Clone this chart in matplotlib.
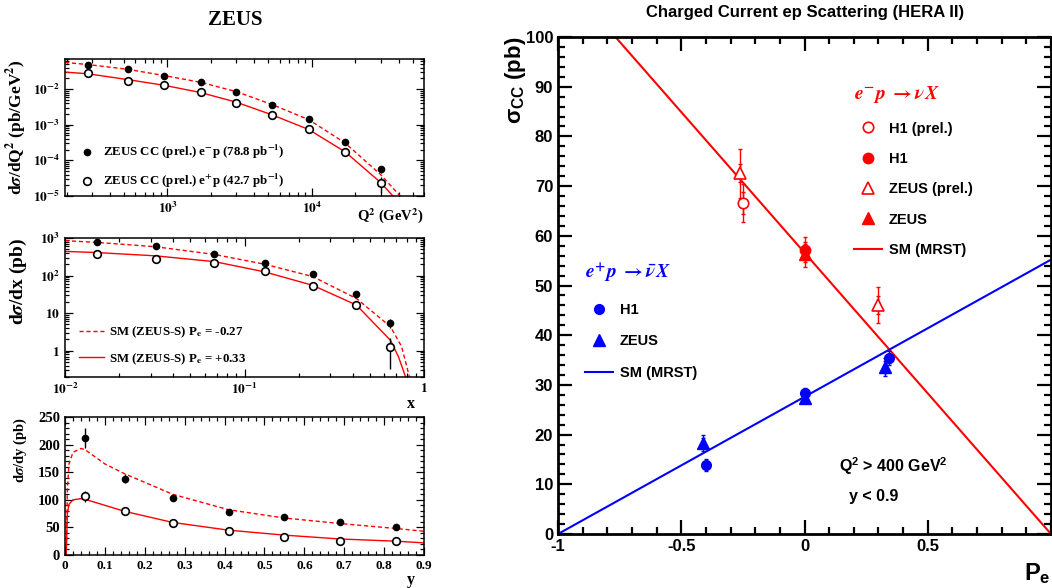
import numpy as np
import matplotlib
matplotlib.use('Agg')
import matplotlib.pyplot as plt
from matplotlib.ticker import FuncFormatter, MultipleLocator, LogLocator, NullFormatter

plt.rcParams['font.family'] = ['Liberation Serif', 'DejaVu Serif']
plt.rcParams['font.weight'] = 'bold'
plt.rcParams['axes.labelweight'] = 'bold'
plt.rcParams['mathtext.fontset'] = 'stix'
# sans bold math for the right-hand plot (used via math_fontfamily='custom')
for k in ['rm', 'it', 'bf', 'sf']:
    plt.rcParams['mathtext.' + k] = 'Liberation Sans:bold'

# ---- ZEUS dsigma/dQ2 ----
q2 = [280, 530, 950, 1700, 3000, 5300, 9500, 17000, 30000]
dq2_em = [0.048, 0.0365, 0.0237, 0.0154, 0.0082, 0.00355, 0.00147, 3.2e-4, 5.6e-5]
dq2_em_err = [0.002, 0.0012, 0.0008, 0.0005, 0.0003, 0.00015, 8e-5, 3e-5, 1.2e-5]
dq2_ep = [0.028, 0.0171, 0.0132, 0.0081, 0.0041, 0.0019, 7.5e-4, 1.77e-4, 2.3e-5]
dq2_ep_err = [0.0015, 0.0009, 0.0006, 0.0004, 0.0002, 0.0001, 5e-5, 2.5e-5, 1.1e-5]
q2_sm = [195, 280, 530, 950, 1700, 3000, 5300, 9500, 17000, 30000, 41000, 50000]
q2_sm_em = [0.056, 0.049, 0.036, 0.024, 0.0155, 0.0085, 0.0037, 0.0014, 3.1e-4, 4.0e-5, 1.0e-5, 3e-6]
q2_sm_ep = [0.030, 0.027, 0.0185, 0.0128, 0.0080, 0.0043, 0.0019, 7.4e-4, 1.75e-4, 2.4e-5, 6e-6, 2e-6]

# ---- ZEUS dsigma/dx ----
xb = [0.015, 0.032, 0.068, 0.13, 0.24, 0.42, 0.65]
dx_em = [796, 597, 372, 217, 110, 32, 5.5]
dx_em_err = [30, 22, 14, 9, 5, 2.5, 1.5]
dx_ep = [370, 279, 217, 133, 54, 16.2, 1.23]
dx_ep_err = [20, 15, 11, 7, 3.5, 1.6, 0.9]
x_sm = [0.01, 0.015, 0.032, 0.068, 0.13, 0.24, 0.42, 0.65, 0.75, 0.83]
x_sm_em = [850, 765, 585, 365, 200, 94, 24.6, 4.4, 1.3, 0.2]
x_sm_ep_x = [0.01, 0.015, 0.032, 0.068, 0.13, 0.24, 0.42, 0.65, 0.72, 0.79]
x_sm_ep = [440, 410, 335, 235, 125, 55, 16.5, 1.9, 0.7, 0.2]

# ---- ZEUS dsigma/dy ----
yb = [0.05, 0.15, 0.27, 0.41, 0.55, 0.69, 0.83]
dy_em = [212, 138, 103, 77.5, 69.6, 60, 51.5]
dy_em_err = [18, 8, 5, 3.5, 3, 3, 3]
dy_ep = [106, 80, 58.7, 43.6, 33.3, 24.8, 26]
dy_ep_err = [10, 4, 3, 2.5, 2, 2, 2]
y_sm = [0.003, 0.006, 0.01, 0.02, 0.04, 0.05, 0.1, 0.15, 0.27, 0.41, 0.55, 0.69, 0.83, 0.9]
y_sm_em = [0, 120, 165, 186, 193, 191, 165, 147, 110, 82, 67, 57, 48, 43]
y_sm_ep = [0, 75, 92, 100, 102, 101, 90, 79, 59, 45, 36, 29, 25, 22]

# ---- HERA II total CC cross section vs Pe ----
em_h1p_pe, em_h1p_sig, em_h1p_tot, em_h1p_stat = [-0.25], [66.6], [3.8], [2.3]
em_h1_pe, em_h1_sig, em_h1_tot, em_h1_stat = [0.0], [57.2], [2.5], [1.2]
em_zp_pe, em_zp_sig, em_zp_tot, em_zp_stat = [-0.26, 0.30], [72.6, 46.1], [4.9, 3.6], [1.8, 1.8]
em_z_pe, em_z_sig, em_z_tot, em_z_stat = [0.0], [56.3], [2.5], [1.2]
ep_h1_pe, ep_h1_sig, ep_h1_tot, ep_h1_stat = [-0.40, 0.0, 0.343], [13.9, 28.4, 35.4], [1.2, 0.9, 1.4], [0.8, 0.5, 0.9]
ep_z_pe, ep_z_sig, ep_z_tot, ep_z_stat = [-0.41, 0.0, 0.325], [18.3, 27.3, 33.6], [1.7, 0.9, 1.9], [1.0, 0.5, 1.2]
pe_line = [-1, 1]
sm_em = [113.2, 0]
sm_ep = [0, 55.2]

W, H = 1052, 588
fig = plt.figure(figsize=(W / 100, H / 100), dpi=100)


def px_axes(x0, y0, x1, y1):
    return fig.add_axes([x0 / W, 1 - y1 / H, (x1 - x0) / W, (y1 - y0) / H])


def root_style(ax, lw, major, minor, size):
    for s in ax.spines.values():
        s.set_linewidth(lw)
    ax.tick_params(which='both', direction='in', top=True, right=True, width=lw * 0.8, labelsize=size)
    ax.tick_params(which='major', length=major)
    ax.tick_params(which='minor', length=minor)


def pow10(v, pos):
    e = int(round(np.log10(v)))
    if e == 0:
        return r'$\mathbf{1}$'
    if e == 1:
        return r'$\mathbf{10}$'
    return r'$\mathbf{10^{%d}}$' % e


red = '#ff0000'
blue = '#0000ff'
dash = (0, (3, 2))

ax1 = px_axes(65, 59, 424, 196)
ax2 = px_axes(65, 238, 424, 377)
ax3 = px_axes(65, 417, 424, 555)
ax4 = px_axes(558, 37, 1051, 534)

# dsigma/dQ2
ax1.plot(q2_sm, q2_sm_em, color=red, ls=dash, lw=1)
ax1.plot(q2_sm, q2_sm_ep, color=red, lw=1)
ax1.errorbar(q2, dq2_em, yerr=dq2_em_err, fmt='none', ecolor='black', elinewidth=1)
ax1.errorbar(q2, dq2_ep, yerr=dq2_ep_err, fmt='none', ecolor='black', elinewidth=1)
p1, = ax1.plot(q2, dq2_em, 'o', color='black', ms=4.5, ls='none', zorder=5)
p2, = ax1.plot(q2, dq2_ep, 'o', mfc='white', mec='black', mew=1.2, ms=5.5, ls='none', zorder=5)
ax1.set_xscale('log')
ax1.set_yscale('log')
ax1.set_xlim(195, 60000)
ax1.set_ylim(1e-5, 0.07)
ax1.legend([p1, p2], [r'ZEUS CC (prel.) e$^{\mathbf{-}}$p (78.8 pb$^{\mathbf{-1}}$)',
                      r'ZEUS CC (prel.) e$^{\mathbf{+}}$p (42.7 pb$^{\mathbf{-1}}$)'],
           loc='upper left', bbox_to_anchor=(0.035, 0.385), frameon=False, fontsize=9.3,
           handlelength=1.5, handletextpad=0.5, labelspacing=0.85, borderpad=0, borderaxespad=0)
ax1.set_ylabel(r'd$\sigma$/dQ$^{\mathbf{2}}$ (pb/GeV$^{\mathbf{2}}$)', loc='top', fontsize=12.5)
ax1.set_xlabel(r'Q$^{\mathbf{2}}$ (GeV$^{\mathbf{2}}$)', loc='right', fontsize=10.5)

# dsigma/dx
ax2.plot(x_sm, x_sm_em, color=red, ls=dash, lw=1)
ax2.plot(x_sm_ep_x, x_sm_ep, color=red, lw=1)
ax2.errorbar(xb, dx_em, yerr=dx_em_err, fmt='o', color='black', ms=4.5, elinewidth=1, zorder=5)
ax2.errorbar(xb, dx_ep, yerr=dx_ep_err, fmt='o', mfc='white', mec='black', ecolor='black',
             mew=1.2, ms=5.5, elinewidth=1, zorder=5)
ax2.set_xscale('log')
ax2.set_yscale('log')
ax2.set_xlim(0.01, 1)
ax2.set_ylim(0.2, 1000)
ax2.legend(ax2.lines[:2], [r'SM (ZEUS-S) P$_{\mathbf{e}}$ = -0.27', r'SM (ZEUS-S) P$_{\mathbf{e}}$ = +0.33'],
           loc='upper left', bbox_to_anchor=(0.038, 0.375), frameon=False, fontsize=9.3,
           handlelength=2.0, handletextpad=0.35, labelspacing=0.85, borderpad=0, borderaxespad=0)
ax2.set_ylabel(r'd$\sigma$/dx (pb)', loc='top', fontsize=14)
ax2.set_xlabel('x', loc='right', fontsize=11.5)

# dsigma/dy
ax3.plot(y_sm, y_sm_em, color=red, ls=dash, lw=1)
ax3.plot(y_sm, y_sm_ep, color=red, lw=1)
ax3.errorbar(yb, dy_em, yerr=dy_em_err, fmt='o', color='black', ms=4.5, elinewidth=1, zorder=5)
ax3.errorbar(yb, dy_ep, yerr=dy_ep_err, fmt='o', mfc='white', mec='black', ecolor='black',
             mew=1.2, ms=5.5, elinewidth=1, zorder=5)
ax3.set_xlim(0, 0.9)
ax3.set_ylim(0, 250)
ax3.xaxis.set_major_locator(MultipleLocator(0.1))
ax3.xaxis.set_minor_locator(MultipleLocator(0.02))
ax3.yaxis.set_major_locator(MultipleLocator(50))
ax3.yaxis.set_minor_locator(MultipleLocator(10))
ax3.xaxis.set_major_formatter(FuncFormatter(lambda v, p: '%g' % round(v, 2)))
ax3.set_ylabel(r'd$\sigma$/dy (pb)', loc='top', fontsize=10.5)
ax3.set_xlabel('y', loc='right', fontsize=11.5)

for ax in (ax1, ax2):
    ax.xaxis.set_major_formatter(FuncFormatter(pow10))
    ax.yaxis.set_major_formatter(FuncFormatter(pow10))
    ax.xaxis.set_minor_formatter(NullFormatter())
    ax.yaxis.set_minor_formatter(NullFormatter())
    ax.xaxis.set_minor_locator(LogLocator(subs=np.arange(2, 10)))
    ax.yaxis.set_minor_locator(LogLocator(subs=np.arange(2, 10)))

root_style(ax1, 1.1, 6, 3, 9.5)
root_style(ax2, 1.1, 6, 3, 9.5)
root_style(ax3, 1.1, 6, 3, 10.5)
ax3.tick_params(axis='x', labelsize=9.5)
for ax in (ax1, ax2, ax3):
    ax.yaxis.set_label_coords(-0.10, 1.0)
ax1.xaxis.set_label_coords(1.0, -0.07)
ax2.xaxis.set_label_coords(0.975, -0.135)
ax3.xaxis.set_label_coords(0.975, -0.125)

fig.text(235 / W, 1 - 20 / H, 'ZEUS', fontsize=15, fontweight='bold', ha='center', va='center')

# total CC cross section vs lepton polarisation
ax4.plot(pe_line, sm_em, color=red, lw=1.5)
ax4.plot(pe_line, sm_ep, color=blue, lw=1.5)
for pe, sig, tot, stat, c in [(em_h1p_pe, em_h1p_sig, em_h1p_tot, em_h1p_stat, red),
                              (em_h1_pe, em_h1_sig, em_h1_tot, em_h1_stat, red),
                              (em_zp_pe, em_zp_sig, em_zp_tot, em_zp_stat, red),
                              (em_z_pe, em_z_sig, em_z_tot, em_z_stat, red),
                              (ep_h1_pe, ep_h1_sig, ep_h1_tot, ep_h1_stat, blue),
                              (ep_z_pe, ep_z_sig, ep_z_tot, ep_z_stat, blue)]:
    ax4.errorbar(pe, sig, yerr=tot, fmt='none', ecolor=c, elinewidth=1, capsize=1.5, capthick=1)
    ax4.errorbar(pe, sig, yerr=stat, fmt='none', ecolor=c, elinewidth=1, capsize=1.5, capthick=1)
h_h1p, = ax4.plot(em_h1p_pe, em_h1p_sig, 'o', mfc='white', mec=red, mew=1.2, ms=7.5, ls='none', zorder=5)
h_h1, = ax4.plot(em_h1_pe, em_h1_sig, 'o', color=red, ms=7.5, ls='none', zorder=5)
h_zp, = ax4.plot(em_zp_pe, em_zp_sig, '^', mfc='white', mec=red, mew=1.2, ms=8, ls='none', zorder=5)
h_z, = ax4.plot(em_z_pe, em_z_sig, '^', color=red, ms=8, ls='none', zorder=5)
b_h1, = ax4.plot(ep_h1_pe, ep_h1_sig, 'o', color=blue, ms=7, ls='none', zorder=5)
b_z, = ax4.plot(ep_z_pe, ep_z_sig, '^', color=blue, ms=8, ls='none', zorder=5)

ax4.set_xlim(-1, 1)
ax4.set_ylim(0, 100)
ax4.xaxis.set_major_locator(MultipleLocator(0.5))
ax4.xaxis.set_minor_locator(MultipleLocator(0.1))
ax4.yaxis.set_major_locator(MultipleLocator(10))
ax4.yaxis.set_minor_locator(MultipleLocator(2))
ax4.xaxis.set_major_formatter(FuncFormatter(lambda v, p: '' if v > 0.9 else '%g' % v))
root_style(ax4, 2, 10, 5, 12)
ax4.tick_params(labelfontfamily='Liberation Sans')

sans = dict(family='Liberation Sans', weight='bold', size=10.5)
leg1 = ax4.legend([h_h1p, h_h1, h_zp, h_z, ax4.lines[0]],
                  ['H1 (prel.)', 'H1', 'ZEUS (prel.)', 'ZEUS', 'SM (MRST)'],
                  loc='upper left', bbox_to_anchor=(0.60, 0.905), frameon=False, prop=sans,
                  title=r'$e^{-}p\ \rightarrow \nu X$', title_fontproperties=dict(size=14),
                  alignment='left', handlelength=1.9, handletextpad=0.5, labelspacing=1.12,
                  borderpad=0, borderaxespad=0)
leg1.get_title().set_color(red)
ax4.add_artist(leg1)
leg2 = ax4.legend([b_h1, b_z, ax4.lines[1]], ['H1', 'ZEUS', 'SM (MRST)'],
                  loc='upper left', bbox_to_anchor=(0.055, 0.547), frameon=False, prop=sans,
                  title=r'$e^{+}p\ \rightarrow \bar{\nu} X$', title_fontproperties=dict(size=14),
                  alignment='left', handlelength=1.9, handletextpad=0.5, labelspacing=1.2,
                  borderpad=0, borderaxespad=0)
leg2.get_title().set_color(blue)

ax4.text(0.138, 13.7, r'Q$^{2}$ > 400 GeV$^{2}$', family='Liberation Sans', fontweight='bold',
         fontsize=11.5, va='center', math_fontfamily='custom')
ax4.text(0.18, 7.6, 'y < 0.9', family='Liberation Sans', fontweight='bold', fontsize=11.5, va='center')
ax4.set_ylabel(r'$\sigma_{CC}$ (pb)', loc='top', family='Liberation Sans', fontweight='bold',
               fontsize=16, math_fontfamily='custom')
ax4.yaxis.set_label_coords(-0.06, 1.0)
ax4.set_xlabel(r'P$_{e}$', loc='right', family='Liberation Sans', fontweight='bold',
               fontsize=17, math_fontfamily='custom')
ax4.xaxis.set_label_coords(1.0, -0.055)
fig.text(805 / W, 1 - 13 / H, 'Charged Current ep Scattering (HERA II)', family='Liberation Sans',
         fontweight='bold', fontsize=12, ha='center', va='center')

fig.savefig('out.png', dpi=100)
